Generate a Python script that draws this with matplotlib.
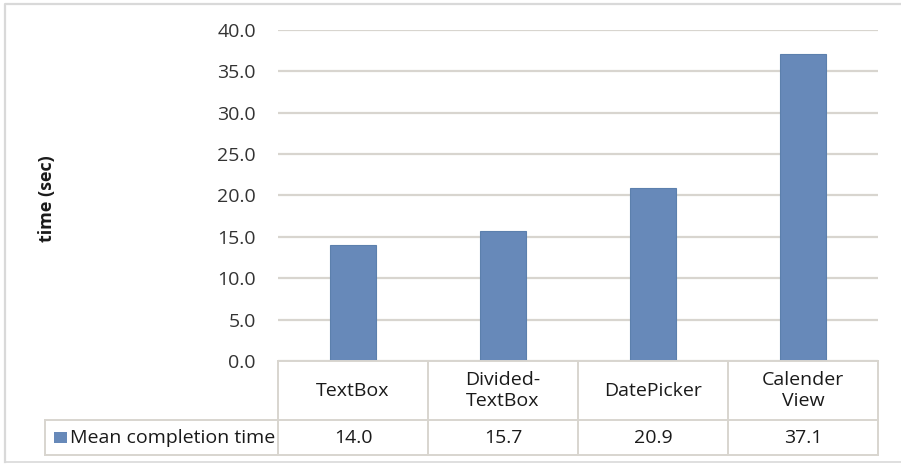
import matplotlib
matplotlib.use("Agg")
import matplotlib.pyplot as plt
from matplotlib.lines import Line2D
from matplotlib.patches import Rectangle

categories = ["TextBox", "Divided-\nTextBox", "DatePicker", "Calender\nView"]
mean_times = [14.0, 15.7, 20.9, 37.1]
series_name = "Mean completion time"
y_ticks = [0, 5, 10, 15, 20, 25, 30, 35, 40]

W, H = 901, 465
plt.rcParams["font.family"] = ["Open Sans", "DejaVu Sans"]

fig = plt.figure(figsize=(W / 100, H / 100), dpi=100)
fig.patch.set_facecolor("white")


def fx(px):
    return px / W


def fy(py):
    return 1 - py / H


grid_col = "#d8d5cf"
bar_col = "#6789b9"
text_col = "#1a1a1a"
fs = 14

# plot area
ax = fig.add_axes([fx(278), fy(361), fx(878) - fx(278), fy(30) - fy(361)])
ax.bar(range(len(mean_times)), mean_times, width=0.31, color=bar_col,
       edgecolor="#5c80ad", linewidth=0.8, zorder=3)
ax.set_xlim(-0.5, len(categories) - 0.5)
ax.set_ylim(0, 40)
ax.set_yticks(y_ticks)
ax.set_yticklabels([f"{v:.1f}" for v in y_ticks], fontsize=fs, color="#333333")
ax.tick_params(axis="y", length=0, pad=16)
ax.set_xticks([])
for s in ax.spines.values():
    s.set_visible(False)
ax.yaxis.grid(True, color=grid_col, linewidth=1.6, zorder=0)
ax.set_axisbelow(True)

fig.text(fx(47), fy(199), "time (sec)", rotation=90, ha="center", va="center",
         fontsize=13, fontweight="bold", color=text_col)

# data table under the plot area
table_lw = 1.4
row_top, row_mid, row_bot = 361, 420, 455
col_left, col_w = 278, 150
legend_left = 45


def hline(x0, x1, y):
    fig.add_artist(Line2D([fx(x0), fx(x1)], [fy(y), fy(y)], color=grid_col,
                          linewidth=table_lw, transform=fig.transFigure))


def vline(x, y0, y1):
    fig.add_artist(Line2D([fx(x), fx(x)], [fy(y0), fy(y1)], color=grid_col,
                          linewidth=table_lw, transform=fig.transFigure))


n = len(categories)
right = col_left + n * col_w
hline(col_left, right, row_top)
hline(legend_left, right, row_mid)
hline(legend_left, right, row_bot)
vline(legend_left, row_mid, row_bot)
for i in range(n + 1):
    vline(col_left + i * col_w, row_top, row_bot)

for i, (cat, val) in enumerate(zip(categories, mean_times)):
    cx = col_left + (i + 0.5) * col_w
    fig.text(fx(cx), fy((row_top + row_mid) / 2), cat, ha="center", va="center",
             fontsize=fs, color=text_col, linespacing=1.2)
    fig.text(fx(cx), fy((row_mid + row_bot) / 2), f"{val:.1f}", ha="center",
             va="center", fontsize=fs, color=text_col)

# legend key inside the table
fig.add_artist(Rectangle((fx(54), fy(443)), fx(13), fy(432) - fy(443),
                         facecolor=bar_col, edgecolor="none",
                         transform=fig.transFigure))
fig.text(fx(70), fy((row_mid + row_bot) / 2), series_name, ha="left",
         va="center", fontsize=fs, color=text_col)

# chart border
border = "#d9d9d9"
fig.add_artist(Line2D([fx(5), fx(5), fx(901)], [fy(462), fy(4), fy(4)],
                      color=border, linewidth=1.6, transform=fig.transFigure))
fig.add_artist(Line2D([fx(5), fx(901)], [fy(462), fy(462)],
                      color=border, linewidth=1.2, transform=fig.transFigure))

fig.savefig("out.png", dpi=100, facecolor="white")
